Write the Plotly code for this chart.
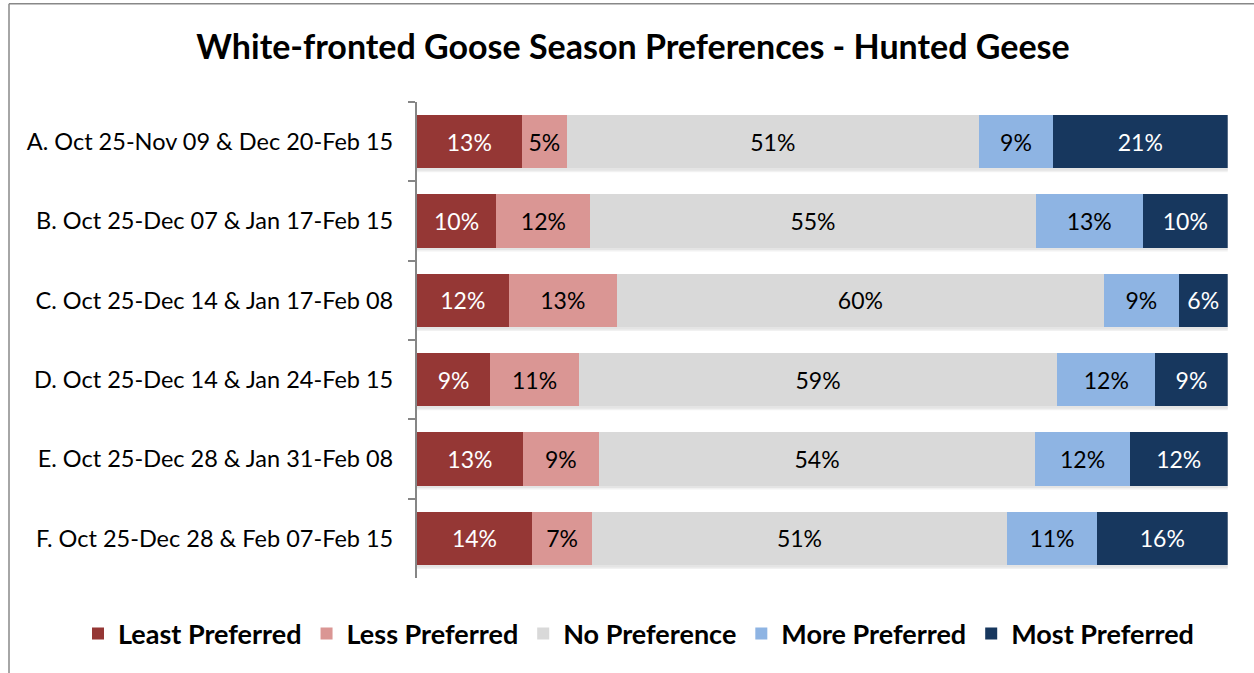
import plotly.graph_objects as go

categories = [
    "A. Oct 25-Nov 09 & Dec 20-Feb 15",
    "B. Oct 25-Dec 07 & Jan 17-Feb 15",
    "C. Oct 25-Dec 14 & Jan 17-Feb 08",
    "D. Oct 25-Dec 14 & Jan 24-Feb 15",
    "E. Oct 25-Dec 28 & Jan 31-Feb 08",
    "F. Oct 25-Dec 28 & Feb 07-Feb 15",
]
series_names = ["Least Preferred", "Less Preferred", "No Preference", "More Preferred", "Most Preferred"]

least_preferred = [12.98, 9.82, 11.38, 9.08, 13.11, 14.25]
less_preferred = [5.51, 11.59, 13.28, 10.90, 9.33, 7.36]
no_preference = [50.84, 54.83, 60.09, 59.01, 53.84, 51.17]
more_preferred = [9.12, 13.23, 9.21, 12.08, 11.64, 11.10]
most_preferred = [21.54, 10.45, 6.04, 8.93, 12.08, 16.12]

least_labels = ["13%", "10%", "12%", "9%", "13%", "14%"]
less_labels = ["5%", "12%", "13%", "11%", "9%", "7%"]
none_labels = ["51%", "55%", "60%", "59%", "54%", "51%"]
more_labels = ["9%", "13%", "9%", "12%", "12%", "11%"]
most_labels = ["21%", "10%", "6%", "9%", "12%", "16%"]

colors = ["#953735", "#DA9694", "#D9D9D9", "#8EB4E3", "#17375E"]
text_colors = ["white", "black", "black", "black", "white"]

values = [least_preferred, less_preferred, no_preference, more_preferred, most_preferred]
labels = [least_labels, less_labels, none_labels, more_labels, most_labels]

FONT = "Lato"

fig = go.Figure()
for name, vals, labs, col, tcol in zip(series_names, values, labels, colors, text_colors):
    fig.add_trace(go.Bar(
        y=categories, x=vals, name=name, orientation="h",
        marker=dict(color=col, line=dict(width=0)),
        text=labs, textposition="inside", insidetextanchor="middle",
        textangle=0,
        textfont=dict(family=FONT, size=23, color=tcol),
        hoverinfo="skip",
    ))

W, H = 1254, 673
L, R, T, B = 416.7, 26.3, 102.3, 94.7

fig.update_layout(
    width=W, height=H,
    barmode="stack", barnorm="percent", bargap=0.33,
    margin=dict(l=0, r=0, t=T, b=B, autoexpand=False),
    paper_bgcolor="white", plot_bgcolor="white",
    title=dict(text="<b>White-fronted Goose Season Preferences - Hunted Geese</b>",
               x=633 / W, xanchor="center", y=1 - 47 / H, yanchor="middle",
               font=dict(family=FONT, size=34, color="black")),
    font=dict(family=FONT, color="black"),
    showlegend=True,
    legend=dict(orientation="h", x=(90 + 1187) / 2 / W, xref="container", xanchor="center",
                y=1 - 634 / H, yref="container", yanchor="middle",
                font=dict(family=FONT, size=27, color="black", weight="bold"),
                itemsizing="constant", traceorder="normal", itemclick=False,
                itemwidth=30),
    uniformtext=dict(minsize=23, mode="show"),
)
fig.update_xaxes(range=[0, 100], domain=[L / W, 1 - R / W],
                 visible=False, showgrid=False, zeroline=False)
fig.update_yaxes(
    autorange="reversed", type="category",
    showline=True, linecolor="#868686", linewidth=1.5,
    ticks="outside", tickson="boundaries", ticklen=7, tickwidth=1.5, tickcolor="#868686",
    tickfont=dict(family=FONT, size=23.5, color="black"),
    ticklabelstandoff=17,
    showgrid=False, zeroline=False,
)

# soft bar shadows
half = 79.33 * 0.67 / 2
for i in range(len(categories)):
    for off, col in [(4, "#f1f1f1"), (2.5, "#e4e4e4")]:
        fig.add_shape(type="rect", xref="x", yref="y", layer="below",
                      x0=0, x1=100.3 + off / 8.11 * 0.8,
                      ysizemode="pixel", yanchor=i,
                      y0=-half - off, y1=half - off,
                      line=dict(width=0), fillcolor=col)

# outer chart frame (left and top edges visible)
fig.add_shape(type="line", xref="paper", yref="paper",
              x0=9 / W, x1=9 / W, y0=1 - (4 - T) / (H - T - B), y1=1 - (680 - T) / (H - T - B),
              line=dict(color="#888888", width=1.5))
fig.add_shape(type="line", xref="paper", yref="paper",
              x0=9 / W, x1=1.01, y0=1 - (4 - T) / (H - T - B), y1=1 - (4 - T) / (H - T - B),
              line=dict(color="#888888", width=1.5))

fig.write_html("out.html", post_script="document.body.style.margin='0';",
               config={"displayModeBar": False})
